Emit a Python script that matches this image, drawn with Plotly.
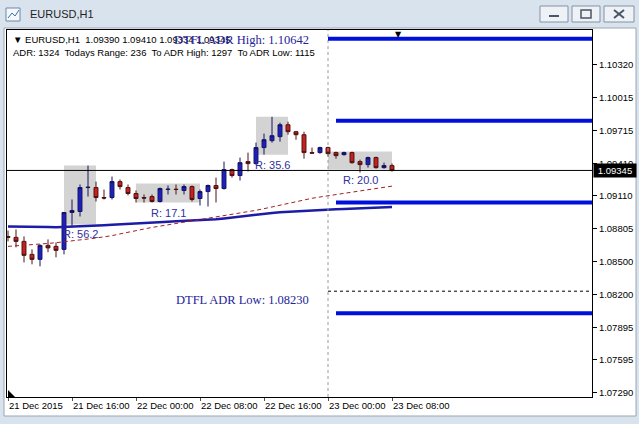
import plotly.graph_objects as go
from datetime import datetime, timedelta

# ---------------- data ----------------
start = datetime(2015, 12, 21, 8)
bar_times = [(start + timedelta(hours=h)).strftime("%Y-%m-%d %H:%M") for h in range(49)]

opens = [1.08735, 1.08727, 1.08690, 1.08570, 1.08524, 1.08653, 1.08644, 1.08616, 1.08957, 1.08966,
         1.09187, 1.09187, 1.09095, 1.09095, 1.09242, 1.09187, 1.09132, 1.09095, 1.09104, 1.09058,
         1.09169, 1.09172, 1.09160, 1.09196, 1.09086, 1.09150, 1.09206, 1.09178, 1.09353, 1.09298,
         1.09427, 1.09408, 1.09556, 1.09620, 1.09657, 1.09767, 1.09703, 1.09675, 1.09510, 1.09510,
         1.09556, 1.09510, 1.09491, 1.09510, 1.09427, 1.09399, 1.09464, 1.09371, 1.09390]
highs = [1.08790, 1.08800, 1.08736, 1.08616, 1.08662, 1.08708, 1.08680, 1.08960, 1.09077, 1.09215,
         1.09390, 1.09242, 1.09169, 1.09289, 1.09262, 1.09215, 1.09160, 1.09123, 1.09123, 1.09187,
         1.09206, 1.09215, 1.09215, 1.09206, 1.09169, 1.09215, 1.09279, 1.09427, 1.09362, 1.09464,
         1.09510, 1.09602, 1.09685, 1.09841, 1.09786, 1.09795, 1.09710, 1.09703, 1.09556, 1.09565,
         1.09565, 1.09519, 1.09519, 1.09519, 1.09445, 1.09473, 1.09473, 1.09417, 1.09410]
lows = [1.08690, 1.08635, 1.08496, 1.08478, 1.08460, 1.08590, 1.08543, 1.08570, 1.08828, 1.08920,
        1.09104, 1.09058, 1.09077, 1.09077, 1.09169, 1.09115, 1.09049, 1.09049, 1.09049, 1.09049,
        1.09123, 1.09123, 1.09123, 1.09058, 1.09021, 1.09012, 1.09049, 1.09169, 1.09279, 1.09252,
        1.09335, 1.09399, 1.09491, 1.09602, 1.09611, 1.09675, 1.09629, 1.09454, 1.09500, 1.09500,
        1.09473, 1.09454, 1.09482, 1.09408, 1.09325, 1.09371, 1.09362, 1.09362, 1.09334]
closes = [1.08727, 1.08690, 1.08561, 1.08524, 1.08653, 1.08630, 1.08607, 1.08957, 1.08975, 1.09187,
          1.09190, 1.09095, 1.09090, 1.09242, 1.09196, 1.09132, 1.09086, 1.09090, 1.09058, 1.09178,
          1.09172, 1.09169, 1.09196, 1.09077, 1.09150, 1.09206, 1.09178, 1.09353, 1.09298, 1.09417,
          1.09408, 1.09556, 1.09629, 1.09666, 1.09767, 1.09703, 1.09675, 1.09510, 1.09505, 1.09556,
          1.09500, 1.09482, 1.09510, 1.09417, 1.09399, 1.09464, 1.09371, 1.09390, 1.09345]

ma_slow = [1.08828, 1.08828, 1.08828, 1.08825, 1.08823, 1.08822, 1.08821, 1.08823, 1.08825, 1.08828,
           1.08832, 1.08835, 1.08840, 1.08844, 1.08849, 1.08854, 1.08858, 1.08862, 1.08866, 1.08869,
           1.08872, 1.08875, 1.08878, 1.08881, 1.08885, 1.08890, 1.08895, 1.08902, 1.08911, 1.08920,
           1.08929, 1.08939, 1.08946, 1.08952, 1.08958, 1.08963, 1.08968, 1.08973, 1.08976, 1.08980,
           1.08984, 1.08987, 1.08990, 1.08993, 1.08996, 1.08999, 1.09001, 1.09004, 1.09007]
ma_fast = [1.08644, 1.08648, 1.08653, 1.08659, 1.08666, 1.08671, 1.08678, 1.08685, 1.08694, 1.08703,
           1.08712, 1.08721, 1.08731, 1.08743, 1.08759, 1.08775, 1.08791, 1.08805, 1.08819, 1.08831,
           1.08843, 1.08854, 1.08865, 1.08876, 1.08887, 1.08899, 1.08911, 1.08924, 1.08937, 1.08950,
           1.08963, 1.08977, 1.08992, 1.09008, 1.09026, 1.09043, 1.09060, 1.09075, 1.09088, 1.09100,
           1.09112, 1.09123, 1.09134, 1.09145, 1.09156, 1.09167, 1.09178, 1.09189, 1.09200]

adr_high = 1.10642
adr_low = 1.08230
bid = 1.09345
band_levels = [1.10562, 1.09804, 1.09049, 1.08027]
band_starts = ["2015-12-23 00:00", "2015-12-23 01:00", "2015-12-23 01:00", "2015-12-23 01:00"]

box_starts = ["2015-12-21 15:00", "2015-12-22 00:00", "2015-12-22 15:00", "2015-12-23 00:00"]
box_ends = ["2015-12-21 19:00", "2015-12-22 08:00", "2015-12-22 19:00", "2015-12-23 08:00"]
box_tops = [1.09390, 1.09224, 1.09841, 1.09519]
box_bottoms = [1.08846, 1.09049, 1.09491, 1.09353]
box_labels = ["R: 56.2", "R: 17.1", "R: 35.6", "R: 20.0"]

y_ticks = [1.10320, 1.10015, 1.09715, 1.09410, 1.09110, 1.08805, 1.08500, 1.08200, 1.07895, 1.07595, 1.07290]
x_tick_times = ["2015-12-21 08:00", "2015-12-21 16:00", "2015-12-22 00:00", "2015-12-22 08:00",
                "2015-12-22 16:00", "2015-12-23 00:00", "2015-12-23 08:00"]
x_tick_labels = ["21 Dec 2015", "21 Dec 16:00", "22 Dec 00:00", "22 Dec 08:00",
                 "22 Dec 16:00", "23 Dec 00:00", "23 Dec 08:00"]

header1 = "▼ EURUSD,H1\u00a0 1.09390 1.09410 1.09334 1.09345"
header2 = "ADR: 1324\u00a0 Todays Range: 236\u00a0 To ADR High: 1297\u00a0 To ADR Low: 1115"

# ---------------- layout geometry ----------------
W, H = 639, 424
L, R, T, B = 7, 592, 30, 397
def px(x):
    return (x - L) / (R - L)
def py(y):
    return (B - y) / (B - T)

x_range = ["2015-12-21 07:52:30", "2015-12-24 09:00"]
y_range = [1.07253, 1.10642]

fig = go.Figure()

fig.add_trace(go.Candlestick(
    x=bar_times, open=opens, high=highs, low=lows, close=closes,
    increasing=dict(line=dict(color="#14145e", width=1), fillcolor="#1f1fbf"),
    decreasing=dict(line=dict(color="#4e1212", width=1), fillcolor="#c81f1f"),
    whiskerwidth=0, showlegend=False, hoverinfo="skip"))

fig.add_trace(go.Scatter(x=bar_times, y=ma_slow, mode="lines",
                         line=dict(color="#1c1ca6", width=2.5), showlegend=False, hoverinfo="skip"))
fig.add_trace(go.Scatter(x=bar_times, y=ma_fast, mode="lines",
                         line=dict(color="#a32020", width=1, dash="4px,3px"), showlegend=False, hoverinfo="skip"))

shapes = []
# window chrome: white client area
shapes.append(dict(type="rect", xref="paper", yref="paper", x0=px(4), x1=px(636), y0=py(416), y1=py(28),
                   fillcolor="white", line=dict(color="#9aa6b4", width=1), layer="below"))
# title bar buttons
for bx0, bx1 in [(540, 568), (572, 600), (604, 634)]:
    shapes.append(dict(type="rect", xref="paper", yref="paper", x0=px(bx0), x1=px(bx1), y0=py(22), y1=py(6),
                       fillcolor="#eef2f7", line=dict(color="#8391a4", width=1), layer="below"))
shapes.append(dict(type="rect", xref="paper", yref="paper", x0=px(549), x1=px(559), y0=py(17), y1=py(15),
                   fillcolor="#4a5566", line=dict(width=0)))
shapes.append(dict(type="rect", xref="paper", yref="paper", x0=px(581), x1=px(591), y0=py(18), y1=py(10),
                   fillcolor="rgba(0,0,0,0)", line=dict(color="#4a5566", width=1.5)))
shapes.append(dict(type="line", xref="paper", yref="paper", x0=px(614), x1=px(624), y0=py(18), y1=py(10),
                   line=dict(color="#4a5566", width=2)))
shapes.append(dict(type="line", xref="paper", yref="paper", x0=px(614), x1=px(624), y0=py(10), y1=py(18),
                   line=dict(color="#4a5566", width=2)))
# title icon
shapes.append(dict(type="rect", xref="paper", yref="paper", x0=px(6), x1=px(20), y0=py(21), y1=py(8),
                   fillcolor="#f4f7fb", line=dict(color="#6f87a8", width=1)))
shapes.append(dict(type="path", xref="paper", yref="paper",
                   path=f"M {px(8)},{py(18)} L {px(12)},{py(13)} L {px(15)},{py(16)} L {px(19)},{py(10)}",
                   line=dict(color="#3a6fb0", width=1)))

# range boxes
for x0, x1, yt, yb in zip(box_starts, box_ends, box_tops, box_bottoms):
    shapes.append(dict(type="rect", xref="x", yref="y", x0=x0, x1=x1, y0=yb, y1=yt,
                       fillcolor="#d3d3d3", line=dict(width=0), layer="below"))
# day separator
shapes.append(dict(type="line", xref="x", yref="paper", x0="2015-12-23 00:00", x1="2015-12-23 00:00", y0=0, y1=1,
                   line=dict(color="#9a9a9a", width=1, dash="3px,3px")))
# bid line
shapes.append(dict(type="line", xref="paper", yref="y", x0=0, x1=1, y0=bid, y1=bid,
                   line=dict(color="black", width=1)))
# ADR low dotted line
shapes.append(dict(type="line", xref="x", yref="y", x0="2015-12-23 00:00", x1=x_range[1], y0=adr_low, y1=adr_low,
                   line=dict(color="black", width=1, dash="3px,3px")))
# ADR band lines
for lvl, xs in zip(band_levels, band_starts):
    shapes.append(dict(type="line", xref="x", yref="y", x0=xs, x1=x_range[1], y0=lvl, y1=lvl,
                       line=dict(color="#0010dc", width=4)))
# bottom-left scroll marker
shapes.append(dict(type="path", xref="paper", yref="paper",
                   path=f"M {px(8)},{py(390)} L {px(8)},{py(397)} L {px(15)},{py(397)} Z",
                   fillcolor="black", line=dict(width=0)))

annotations = []
annotations.append(dict(xref="paper", yref="paper", x=px(28), y=py(14), xanchor="left", yanchor="middle",
                        text="EURUSD,H1", showarrow=False,
                        font=dict(family="Liberation Sans", size=11, color="#1e1e1e")))
annotations.append(dict(xref="paper", yref="paper", x=px(11), y=py(39), xanchor="left", yanchor="middle",
                        text=header1, showarrow=False,
                        font=dict(family="Liberation Sans", size=9.5, color="black")))
annotations.append(dict(xref="paper", yref="paper", x=px(11), y=py(52), xanchor="left", yanchor="middle",
                        text=header2, showarrow=False,
                        font=dict(family="Liberation Sans", size=9.5, color="black")))
annotations.append(dict(xref="paper", yref="y", x=px(241.5), y=adr_high, xanchor="center", yanchor="top",
                        yshift=-1, text=f"DTFL ADR High: {adr_high:.5f}", showarrow=False,
                        font=dict(family="Liberation Serif", size=12.5, color="#23239a")))
annotations.append(dict(xref="paper", yref="y", x=px(242), y=adr_low, xanchor="center", yanchor="top",
                        yshift=0, text=f"DTFL ADR Low: {adr_low:.5f}", showarrow=False,
                        font=dict(family="Liberation Serif", size=12.5, color="#23239a")))
for x0, x1, yb, lab in zip(box_starts, box_ends, box_bottoms, box_labels):
    t0 = datetime.strptime(x0, "%Y-%m-%d %H:%M")
    t1 = datetime.strptime(x1, "%Y-%m-%d %H:%M")
    mid = (t0 + (t1 - t0) / 2).strftime("%Y-%m-%d %H:%M")
    annotations.append(dict(xref="x", yref="y", x=mid, y=yb, xanchor="center", yanchor="top", yshift=-2,
                            text=lab, showarrow=False,
                            font=dict(family="Liberation Sans", size=11, color="#30309e")))
annotations.append(dict(xref="paper", yref="y", x=px(593), y=bid, xanchor="left", yanchor="middle",
                        text=f"{bid:.5f}", showarrow=False, bgcolor="black", borderpad=1, width=40,
                        font=dict(family="Liberation Sans", size=9.5, color="white")))
annotations.append(dict(xref="x", yref="paper", x="2015-12-23 08:45", y=1, xanchor="center", yanchor="top",
                        yshift=2, text="▼", showarrow=False,
                        font=dict(family="DejaVu Sans", size=8, color="black")))

fig.update_layout(
    width=W, height=H, autosize=False,
    margin=dict(l=L, r=W - R, t=T, b=H - B, pad=0, autoexpand=False),
    paper_bgcolor="#d9e3ee", plot_bgcolor="white",
    shapes=shapes, annotations=annotations, showlegend=False, hovermode=False,
    xaxis=dict(type="date", range=x_range, showgrid=False, zeroline=False,
               showline=True, linecolor="black", linewidth=1, mirror=True,
               ticks="outside", ticklen=3, tickcolor="#555555", tickangle=0, automargin=False,
               tickvals=x_tick_times, ticktext=x_tick_labels, ticklabelposition="outside right",
               tickfont=dict(family="Liberation Sans", size=9.5, color="black"),
               rangeslider=dict(visible=False), fixedrange=True),
    yaxis=dict(side="right", range=y_range, showgrid=False, zeroline=False,
               showline=True, linecolor="black", linewidth=1, mirror=True, automargin=False,
               ticks="outside", ticklen=4, tickcolor="black",
               tickvals=y_ticks, ticktext=[f"{v:.5f}" for v in y_ticks],
               tickfont=dict(family="Liberation Sans", size=9.5, color="black"), fixedrange=True),
)

fig.write_html("out.html", config={"displayModeBar": False},
               post_script="document.body.style.margin='0px';document.body.style.overflow='hidden';")
